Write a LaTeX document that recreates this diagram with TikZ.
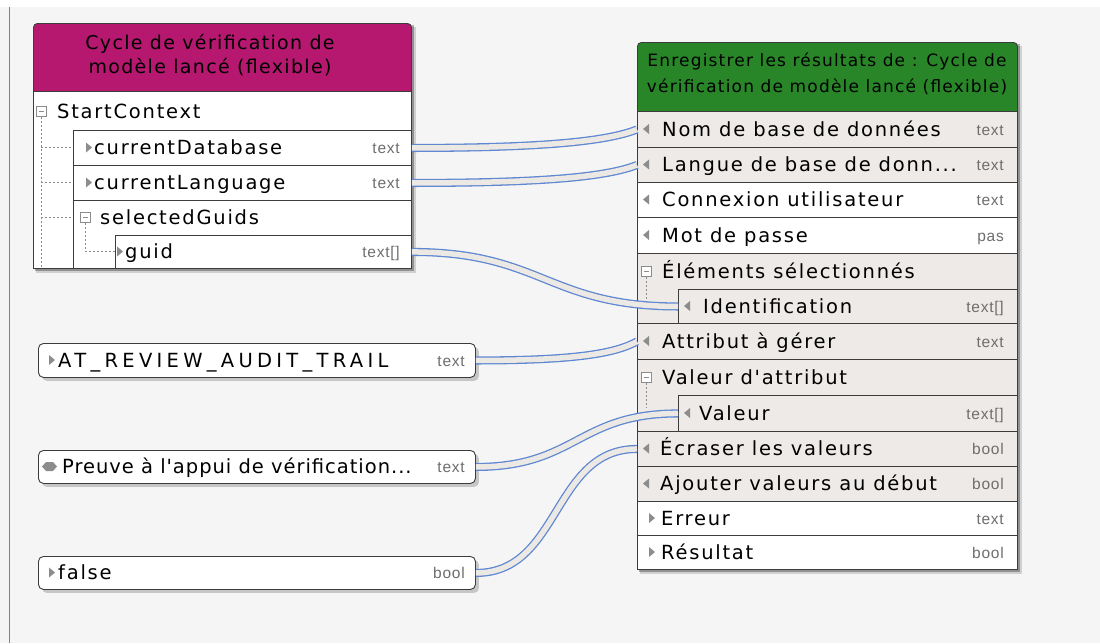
\documentclass[tikz,border=0pt]{standalone}
\usepackage{fontspec}
\setmainfont{DejaVu Sans}
\newfontfamily\rowfont[LetterSpace=9]{DejaVu Sans}
\newfontfamily\headfont[LetterSpace=7]{DejaVu Sans}
\newfontfamily\typefont[LetterSpace=5]{Liberation Sans}
\usetikzlibrary{shadows}
\definecolor{hdrMag}{RGB}{181,24,110}
\definecolor{hdrGreen}{RGB}{40,134,40}
\definecolor{rowGray}{RGB}{237,234,231}
\definecolor{bgGray}{RGB}{245,245,245}
\definecolor{wireBlue}{RGB}{95,135,210}
\definecolor{wireFill}{RGB}{236,233,229}
\definecolor{typeGray}{RGB}{110,110,110}
\definecolor{iconGray}{RGB}{140,140,140}
\definecolor{borderDark}{RGB}{60,60,60}
\definecolor{lineGray}{RGB}{130,130,130}
\newcommand\collapseicon[2]{\draw[iconGray, fill=white, line width=0.7pt] (#1-5,#2-5) rectangle (#1+5,#2+5); \draw[iconGray, line width=0.8pt] (#1-2.5,#2) -- (#1+2.5,#2);}
\newcommand\rtri[2]{\fill[iconGray] (#1,#2-5) -- (#1+6,#2) -- (#1,#2+5) -- cycle;}
\newcommand\ltri[2]{\fill[iconGray] (#1+6,#2-5) -- (#1,#2) -- (#1+6,#2+5) -- cycle;}
\tikzset{
  rowbox/.style={rectangle, draw=borderDark, line width=0.9pt, inner sep=0pt, anchor=north west},
  lbl/.style={anchor=base west, inner sep=0pt, font=\rowfont\fontsize{19.5}{22}\selectfont, text=black},
  typ/.style={anchor=base east, inner sep=0pt, font=\typefont\fontsize{15.5}{18}\selectfont, text=typeGray},
  ttl/.style={align=center, inner sep=0pt, text=black},
  hdrbox/.style={rectangle, rounded corners=4pt, draw=borderDark, line width=0.9pt, inner sep=0pt, anchor=north west},
  treeline/.style={draw=iconGray, dash pattern=on 2pt off 2pt, line width=0.8pt},
  wire/.style={draw=wireBlue, line width=1.3pt, double=wireFill, double distance=5.5pt},
  valbox/.style={rectangle, rounded corners=5pt, draw=borderDark, line width=0.9pt, fill=white, inner sep=0pt, anchor=north west, minimum width=437, minimum height=34, drop shadow={shadow xshift=3.5pt, shadow yshift=-3.5pt, opacity=0.4}},
}
\begin{document}
\begin{tikzpicture}[x=1pt,y=-1pt]
\useasboundingbox (0,0) rectangle (1100,643);
\fill[white] (0,0) rectangle (1100,643);
\fill[bgGray] (0,7) rectangle (1100,643);
\draw[lineGray, line width=1.2pt] (9.5,7) -- (9.5,643);

% ---------- left box ----------
\fill[black, opacity=0.15] (36,27) rectangle (416,273);
\fill[black, opacity=0.3] (35,25) rectangle (414,271);
\node[hdrbox, fill=hdrMag, minimum width=378, minimum height=76] (lhdr) at (33,23) {};
\node[ttl, font=\headfont\fontsize{19}{24}\selectfont] (ltitle) at (210,55) {Cycle de vérification de\\modèle lancé (flexible)};
\node[rowbox, fill=white, minimum width=378, minimum height=177] (sc) at (33,91) {};
\node[rowbox, fill=white, minimum width=338, minimum height=35] (cdb) at (73,130) {};
\node[rowbox, fill=white, minimum width=338, minimum height=35] (clang) at (73,165) {};
\node[rowbox, fill=white, minimum width=338, minimum height=68] (sg) at (73,200) {};
\node[rowbox, fill=white, minimum width=296, minimum height=33] (guid) at (115,235) {};
\draw[treeline] (41,117) -- (41,268);
\draw[treeline] (41,147.5) -- (73,147.5);
\draw[treeline] (41,182.5) -- (73,182.5);
\draw[treeline] (41,217.5) -- (73,217.5);
\draw[treeline] (85,223) -- (85,251.5) -- (115,251.5);
\collapseicon{41}{111.5}
\collapseicon{85}{217.5}
\node[lbl] (t-sc) at (57,118.5) {StartContext};
\rtri{86}{147.5}
\node[lbl] (t-cdb) at (94,154.5) {currentDatabase};
\node[typ] (y-cdb) at (400,153.5) {text};
\rtri{86}{182.5}
\node[lbl] (t-clang) at (94,189.5) {currentLanguage};
\node[typ] (y-clang) at (400,188.5) {text};
\node[lbl] (t-sg) at (100,224.5) {selectedGuids};
\rtri{117}{251.5}
\node[lbl] (t-guid) at (125,258.5) {guid};
\node[typ] (y-guid) at (400,257.5) {text[]};

% ---------- value boxes ----------
\node[valbox] (atr) at (38,343) {};
\rtri{49}{360}
\node[lbl] (t-atr) at (58,367) {\addfontfeature{LetterSpace=22}AT\_REVIEW\_AUDIT\_TRAIL};
\node[typ] (y-atr) at (465,366) {text};
\node[valbox, minimum height=33] (preuve) at (38,450) {};
\fill[iconGray] (42,466.5) -- (46,462) -- (53,462) -- (57,466.5) -- (53,471) -- (46,471) -- cycle;
\node[lbl] (t-preuve) at (62,473.5) {\addfontfeature{LetterSpace=5}Preuve à l'appui de vérification...};
\node[typ] (y-preuve) at (465,472.5) {text};
\node[valbox, minimum height=33] (fls) at (38,556) {};
\rtri{49}{572.5}
\node[lbl] (t-fls) at (58,579.5) {false};
\node[typ] (y-fls) at (465,578.5) {bool};

% ---------- right box ----------
\fill[black, opacity=0.15] (640,46) rectangle (1022,574);
\fill[black, opacity=0.3] (639,44) rectangle (1020,572);
\node[hdrbox, fill=hdrGreen, minimum width=380, minimum height=76] (rhdr) at (637,42) {};
\node[ttl, font=\headfont\fontsize{17}{26}\selectfont] (rtitle) at (827,74) {Enregistrer les résultats de : Cycle de\\vérification de modèle lancé (flexible)};
\node[rowbox, fill=rowGray, minimum width=380, minimum height=36] (nom) at (637,111) {};
\node[rowbox, fill=rowGray, minimum width=380, minimum height=35] (lang) at (637,147) {};
\node[rowbox, fill=white, minimum width=380, minimum height=35] (conn) at (637,182) {};
\node[rowbox, fill=white, minimum width=380, minimum height=36] (mdp) at (637,217) {};
\node[rowbox, fill=rowGray, minimum width=380, minimum height=70] (elem) at (637,253) {};
\node[rowbox, fill=rowGray, minimum width=339, minimum height=34] (ident) at (678,289) {};
\node[rowbox, fill=rowGray, minimum width=380, minimum height=36] (attr) at (637,323) {};
\node[rowbox, fill=rowGray, minimum width=380, minimum height=72] (vattr) at (637,359) {};
\node[rowbox, fill=rowGray, minimum width=339, minimum height=36] (val) at (678,395) {};
\node[rowbox, fill=rowGray, minimum width=380, minimum height=35] (ecr) at (637,431) {};
\node[rowbox, fill=rowGray, minimum width=380, minimum height=35] (ajo) at (637,466) {};
\node[rowbox, fill=white, minimum width=380, minimum height=34] (err) at (637,501) {};
\node[rowbox, fill=white, minimum width=380, minimum height=34] (res) at (637,535) {};

\ltri{643}{129}
\node[lbl] (t-nom) at (662,136) {Nom de base de données};
\node[typ] (y-nom) at (1004,135) {text};
\ltri{643}{164.5}
\node[lbl] (t-lang) at (662,171.5) {Langue de base de donn...};
\node[typ] (y-lang) at (1004,170.5) {text};
\ltri{643}{199.5}
\node[lbl] (t-conn) at (662,206.5) {Connexion utilisateur};
\node[typ] (y-conn) at (1004,205.5) {text};
\ltri{643}{235}
\node[lbl] (t-mdp) at (662,242) {Mot de passe};
\node[typ] (y-mdp) at (1004,241) {pas};
\draw[treeline] (646,277) -- (646,300);
\collapseicon{646}{271}
\node[lbl] (t-elem) at (662,278) {Éléments sélectionnés};
\ltri{684}{306}
\node[lbl] (t-ident) at (703,313) {Identification};
\node[typ] (y-ident) at (1004,312) {text[]};
\ltri{643}{341}
\node[lbl] (t-attr) at (662,348) {Attribut à gérer};
\node[typ] (y-attr) at (1004,347) {text};
\draw[treeline] (646,383) -- (646,408);
\collapseicon{646}{377}
\node[lbl] (t-vattr) at (662,384) {Valeur d'attribut};
\ltri{684}{413}
\node[lbl] (t-val) at (699,420) {Valeur};
\node[typ] (y-val) at (1004,419) {text[]};
\ltri{643}{448.5}
\node[lbl] (t-ecr) at (660,455.5) {Écraser les valeurs};
\node[typ] (y-ecr) at (1004,454.5) {bool};
\ltri{643}{483.5}
\node[lbl] (t-ajo) at (660,490.5) {Ajouter valeurs au début};
\node[typ] (y-ajo) at (1004,489.5) {bool};
\rtri{649}{518}
\node[lbl] (t-err) at (661,525) {Erreur};
\node[typ] (y-err) at (1004,524) {text};
\rtri{649}{552}
\node[lbl] (t-res) at (661,559) {Résultat};
\node[typ] (y-res) at (1004,558) {bool};

% ---------- connectors ----------
\draw[wire] (cdb.east) .. controls +(130,0) and +(-30,12) .. (nom.west);
\draw[wire] (clang.east) .. controls +(130,0) and +(-30,12) .. (lang.west);
\draw[wire] (guid.east) .. controls +(130,0) and +(-130,0) .. (ident.west);
\draw[wire] (atr.east) .. controls +(100,0) and +(-22,12) .. (attr.west);
\draw[wire] (preuve.east) .. controls +(100,0) and +(-100,0) .. (val.west);
\draw[wire] (fls.east) .. controls +(85,0) and +(-85,0) .. (ecr.west);
\end{tikzpicture}
\end{document}
